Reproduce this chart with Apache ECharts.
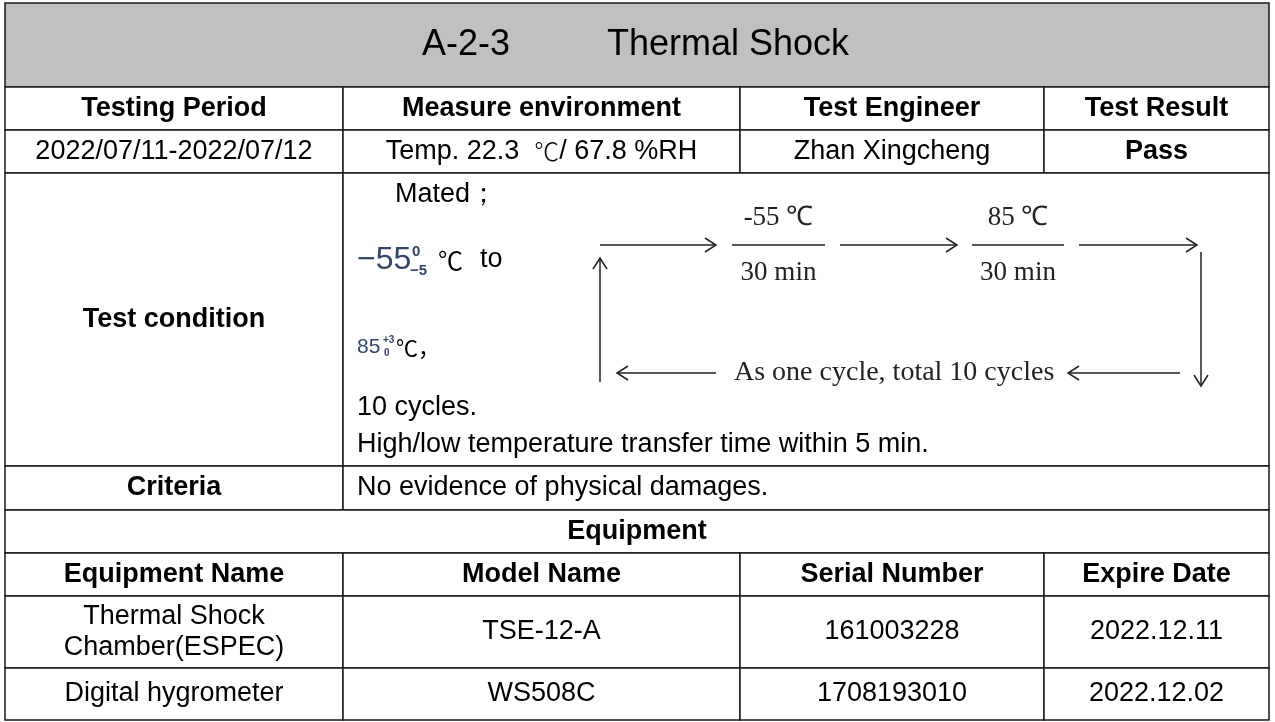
<!DOCTYPE html>
<html><head><meta charset="utf-8">
<script src="https://cdn.jsdelivr.net/npm/echarts@6/dist/echarts.min.js"></script>
<style>html,body{margin:0;padding:0;background:#fff}#c{width:1275px;height:722px}</style>
</head><body><div id="c"></div>
<script>
// ---------- data ----------
const titleCode = 'A-2-3';
const titleName = 'Thermal Shock';
const infoHeaders = ['Testing Period', 'Measure environment', 'Test Engineer', 'Test Result'];
const infoValues = ['2022/07/11-2022/07/12', 'Temp. 22.3  ℃/ 67.8 %RH', 'Zhan Xingcheng', 'Pass'];
const conditionLabel = 'Test condition';
const conditionMated = 'Mated；';
const lowTemp = ['−55', '0', '−5', '℃', 'to'];
const highTemp = ['85', '+3', '0', '℃，'];
const cyclesText = '10 cycles.';
const transferText = 'High/low temperature transfer time within 5 min.';
const cycleTemps = ['-55 ℃', '85 ℃'];
const cycleTimes = ['30 min', '30 min'];
const cycleNote = 'As one cycle, total 10 cycles';
const criteriaLabel = 'Criteria';
const criteriaText = 'No evidence of physical damages.';
const equipmentTitle = 'Equipment';
const equipmentHeaders = ['Equipment Name', 'Model Name', 'Serial Number', 'Expire Date'];
const equipmentNames = ['Thermal Shock\nChamber(ESPEC)', 'Digital hygrometer'];
const equipmentModels = ['TSE-12-A', 'WS508C'];
const equipmentSerials = ['161003228', '1708193010'];
const equipmentExpiry = ['2022.12.11', '2022.12.02'];

// ---------- layout ----------
const COLS = [5, 343, 740, 1044, 1269];
const ROWS = [3, 87, 130, 173, 466, 510, 553, 596, 668, 720];
const SANS = '"Liberation Sans", Arial, sans-serif';
const SERIF = '"Liberation Serif", "Times New Roman", serif';
const CJK = '"Noto Sans CJK SC", "DejaVu Sans", sans-serif';
const BODY = 27;

const cells = [];
function cell(c0, c1, r0, r1, text, opt) {
  cells.push(Object.assign({ c0, c1, r0, r1, text, bold: false, fill: '#fff', align: 'center' }, opt || {}));
}
cell(0, 4, 0, 1, '', { fill: '#c0c0c0', title: true });
infoHeaders.forEach((t, i) => cell(i, i + 1, 1, 2, t, { bold: true }));
infoValues.forEach((t, i) => cell(i, i + 1, 2, 3, t, { bold: i === 3 }));
cell(0, 1, 3, 4, conditionLabel, { bold: true });
cell(1, 4, 3, 4, '');
cell(0, 1, 4, 5, criteriaLabel, { bold: true });
cell(1, 4, 4, 5, criteriaText, { align: 'left' });
cell(0, 4, 5, 6, equipmentTitle, { bold: true });
equipmentHeaders.forEach((t, i) => cell(i, i + 1, 6, 7, t, { bold: true }));
equipmentNames.forEach((n, k) => {
  [n, equipmentModels[k], equipmentSerials[k], equipmentExpiry[k]].forEach((t, i) => cell(i, i + 1, 7 + k, 8 + k, t));
});

function renderCell(params, api) {
  const c = cells[params.dataIndex];
  const p0 = api.coord([COLS[c.c0], ROWS[c.r0]]);
  const p1 = api.coord([COLS[c.c1], ROWS[c.r1]]);
  const children = [{
    type: 'rect',
    shape: { x: p0[0], y: p0[1], width: p1[0] - p0[0], height: p1[1] - p0[1] },
    style: { fill: c.fill, stroke: '#1a1a1a', lineWidth: 1.5 }
  }];
  const cy = (p0[1] + p1[1]) / 2;
  if (c.title) {
    const mid = (p0[0] + p1[0]) / 2;
    children.push({ type: 'text', style: { text: titleCode, x: mid - 127, y: cy, align: 'right', verticalAlign: 'middle', fontSize: 36, fontFamily: SANS, fill: '#000' } });
    children.push({ type: 'text', style: { text: titleName, x: mid - 30, y: cy, align: 'left', verticalAlign: 'middle', fontSize: 36, fontFamily: SANS, fill: '#000' } });
  } else if (c.text) {
    let text = c.text, rich;
    if (text.indexOf('℃') >= 0) {
      const parts = text.split('℃');
      text = '{a|' + parts[0] + '}{d|℃}{a|' + parts[1] + '}';
      rich = {
        a: { fontSize: BODY, fontFamily: SANS, fill: '#000' },
        d: { fontSize: 25, fontFamily: CJK, fill: '#000', fontWeight: 300 }
      };
    }
    children.push({
      type: 'text',
      style: {
        text: text, rich: rich,
        x: c.align === 'left' ? p0[0] + 14 : (p0[0] + p1[0]) / 2,
        y: cy, align: c.align, verticalAlign: 'middle',
        fontSize: BODY, fontFamily: SANS, fontWeight: c.bold ? 'bold' : 'normal',
        fill: '#000', lineHeight: 31
      }
    });
  }
  return { type: 'group', children };
}

function t(text, x, y, o) {
  return { type: 'text', style: Object.assign({ text, x, y, align: 'left', verticalAlign: 'middle', fontSize: BODY, fontFamily: SANS, fill: '#000' }, o || {}) };
}
function ln(points) {
  return { type: 'polyline', shape: { points }, style: { stroke: '#222', lineWidth: 1.5, fill: null } };
}

function renderCondition(params, api) {
  const o = api.coord([COLS[1], ROWS[3]]);
  const X = (dx) => o[0] + dx, Y = (dy) => o[1] + dy;
  const ch = [];
  const fc = '#33466a';
  // text lines
  ch.push(t(conditionMated, X(52), Y(22)));
  ch.push(t(lowTemp[0], X(14), Y(87), { fontSize: 32, fill: fc }));
  ch.push(t(lowTemp[1], X(69), Y(79), { fontSize: 15, fontWeight: 'bold', fill: fc }));
  ch.push(t(lowTemp[2], X(67), Y(98), { fontSize: 15, fontWeight: 'bold', fill: fc }));
  ch.push(t(lowTemp[3], X(95), Y(87), { fontSize: 25, fontFamily: CJK }));
  ch.push(t(lowTemp[4], X(137), Y(87)));
  ch.push(t(highTemp[0], X(14), Y(174), { fontSize: 21, fill: fc }));
  ch.push(t(highTemp[1], X(40), Y(167), { fontSize: 10, fontWeight: 'bold', fill: fc }));
  ch.push(t(highTemp[2], X(41), Y(180), { fontSize: 10, fontWeight: 'bold', fill: fc }));
  ch.push(t(highTemp[3], X(53), Y(175), { fontSize: 22, fontFamily: CJK }));
  ch.push(t(cyclesText, X(14), Y(235)));
  ch.push(t(transferText, X(14), Y(272)));
  // cycle diagram
  const top = 245, bot = 373;
  const arrowR = (x1, x2, y) => [ln([[x1, y], [x2, y]]), ln([[x2 - 11, y - 7], [x2, y], [x2 - 11, y + 7]])];
  const arrowL = (x1, x2, y) => [ln([[x1, y], [x2, y]]), ln([[x1 + 11, y - 7], [x1, y], [x1 + 11, y + 7]])];
  [[600, 716], [840, 957], [1079, 1197]].forEach(a => ch.push(...arrowR(a[0], a[1], o[1] + top - ROWS[3])));
  const fr = [[732, 825], [972, 1064]];
  fr.forEach((f, i) => {
    const cx = (f[0] + f[1]) / 2;
    ch.push(ln([[f[0], o[1] + top - ROWS[3]], [f[1], o[1] + top - ROWS[3]]]));
    ch.push(t(cycleTemps[i], cx, o[1] + 218 - ROWS[3], { align: 'center', fontSize: 27, fontFamily: SERIF, fill: '#222' }));
    ch.push(t(cycleTimes[i], cx, o[1] + 273 - ROWS[3], { align: 'center', fontSize: 27, fontFamily: SERIF, fill: '#222' }));
  });
  const yb = o[1] + bot - ROWS[3];
  // right down line
  ch.push(ln([[1201, o[1] + 252 - ROWS[3]], [1201, o[1] + 386 - ROWS[3]]]));
  ch.push(ln([[1194, o[1] + 375 - ROWS[3]], [1201, o[1] + 386 - ROWS[3]], [1208, o[1] + 375 - ROWS[3]]]));
  // bottom arrows and note
  ch.push(...arrowL(617, 716, yb));
  ch.push(t(cycleNote, 734, yb, { fontSize: 28, fontFamily: SERIF, fill: '#222' }));
  ch.push(...arrowL(1068, 1180, yb));
  // left up line
  ch.push(ln([[600, o[1] + 382 - ROWS[3]], [600, o[1] + 258 - ROWS[3]]]));
  ch.push(ln([[593, o[1] + 269 - ROWS[3]], [600, o[1] + 258 - ROWS[3]], [607, o[1] + 269 - ROWS[3]]]));
  return { type: 'group', children: ch };
}

const chart = echarts.init(document.getElementById('c'), null, { renderer: 'canvas' });
chart.setOption({
  animation: false,
  backgroundColor: '#fff',
  grid: { left: 0, right: 0, top: 0, bottom: 0 },
  xAxis: { type: 'value', min: 0, max: 1275, show: false },
  yAxis: { type: 'value', min: 0, max: 722, inverse: true, show: false },
  series: [
    { type: 'custom', renderItem: renderCell, data: cells.map((c, i) => [COLS[c.c0], ROWS[c.r0]]), silent: true },
    { type: 'custom', renderItem: renderCondition, data: [[COLS[1], ROWS[3]]], silent: true, z: 3 }
  ]
});
</script>
</body></html>
